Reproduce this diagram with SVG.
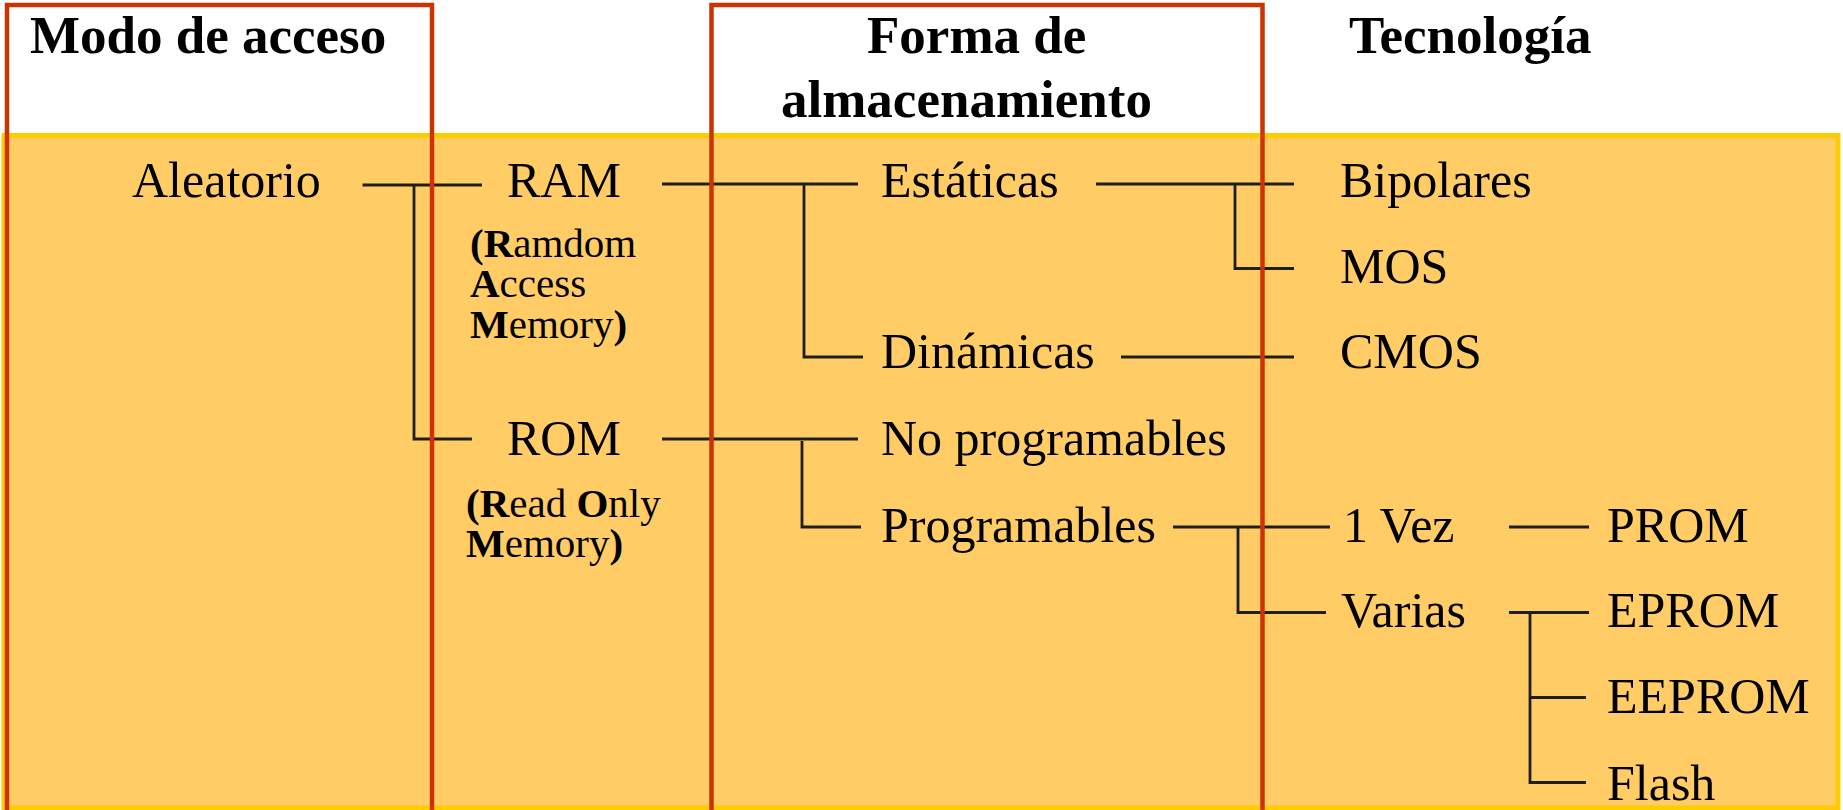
<svg xmlns="http://www.w3.org/2000/svg" width="1843" height="810" viewBox="0 0 1843 810">
<style>
.hd{font-family:"Liberation Serif","Times New Roman",serif;font-weight:bold;font-size:53px;fill:#000}
.t{font-family:"Liberation Serif","Times New Roman",serif;font-size:50px;fill:#000}
.s{font-family:"Liberation Serif","Times New Roman",serif;font-size:41px;fill:#000}
.b{font-weight:bold}
.ln{fill:none;stroke:#1e1e1e;stroke-width:2.8}
.red{fill:none;stroke:#CC3300;stroke-width:4.5}
</style>
<rect x="0" y="0" width="1843" height="810" fill="#ffffff"/>
<rect id="band" x="4" y="135.5" width="1834" height="672.5" fill="#FFCC66" stroke="#FFCC00" stroke-width="5"/>
<g id="connectors">
<path class="ln" d="M362.5,185 H482 M414,185 V439 H472"/>
<path class="ln" d="M662,184 H858 M804,184 V357 H863"/>
<path class="ln" d="M1096,184 H1294 M1235,184 V268.5 H1294"/>
<path class="ln" d="M1121,357 H1294"/>
<path class="ln" d="M662,439 H858 M802,441 V527 H861"/>
<path class="ln" d="M1173,527 H1330 M1238,527 V612.5 H1326"/>
<path class="ln" d="M1509,527 H1589"/>
<path class="ln" d="M1509,612.5 H1589 M1530,612.5 V782.5 H1586 M1530,697.5 H1586"/>
</g>
<g id="frames">
<path class="red" d="M7,812 V5 H432 V812"/>
<path class="red" d="M711.5,812 V5 H1262.5 V812"/>
</g>
<g id="header-modo"><text class="hd" x="30" y="53">Modo de acceso</text></g>
<g id="header-forma"><text class="hd" x="867" y="53">Forma de</text><text class="hd" x="781" y="117">almacenamiento</text></g>
<g id="header-tecnologia"><text class="hd" x="1349" y="53">Tecnología</text></g>
<g id="n-aleatorio"><text class="t" x="132" y="197">Aleatorio</text></g>
<g id="n-ram"><text class="t" x="507" y="197">RAM</text>
<text class="s" x="470" y="257"><tspan class="b">(R</tspan>amdom</text>
<text class="s" x="470" y="297"><tspan class="b">A</tspan>ccess</text>
<text class="s" x="470" y="338"><tspan class="b">M</tspan>emory<tspan class="b">)</tspan></text></g>
<g id="n-rom"><text class="t" x="507" y="455">ROM</text>
<text class="s" x="466" y="517"><tspan class="b">(R</tspan>ead <tspan class="b">O</tspan>nly</text>
<text class="s" x="466" y="557"><tspan class="b">M</tspan>emory<tspan class="b">)</tspan></text></g>
<g id="n-estaticas"><text class="t" x="881" y="197">Estáticas</text></g>
<g id="n-dinamicas"><text class="t" x="881" y="368">Dinámicas</text></g>
<g id="n-noprog"><text class="t" x="881" y="455">No programables</text></g>
<g id="n-prog"><text class="t" x="881" y="542">Programables</text></g>
<g id="n-bipolares"><text class="t" x="1340" y="197">Bipolares</text></g>
<g id="n-mos"><text class="t" x="1340" y="283">MOS</text></g>
<g id="n-cmos"><text class="t" x="1340" y="368">CMOS</text></g>
<g id="n-1vez"><text class="t" x="1343" y="542">1 Vez</text></g>
<g id="n-varias"><text class="t" x="1341" y="627">Varias</text></g>
<g id="n-prom"><text class="t" x="1607" y="542">PROM</text></g>
<g id="n-eprom"><text class="t" x="1607" y="627">EPROM</text></g>
<g id="n-eeprom"><text class="t" x="1607" y="713">EEPROM</text></g>
<g id="n-flash"><text class="t" x="1607" y="800">Flash</text></g>
</svg>
